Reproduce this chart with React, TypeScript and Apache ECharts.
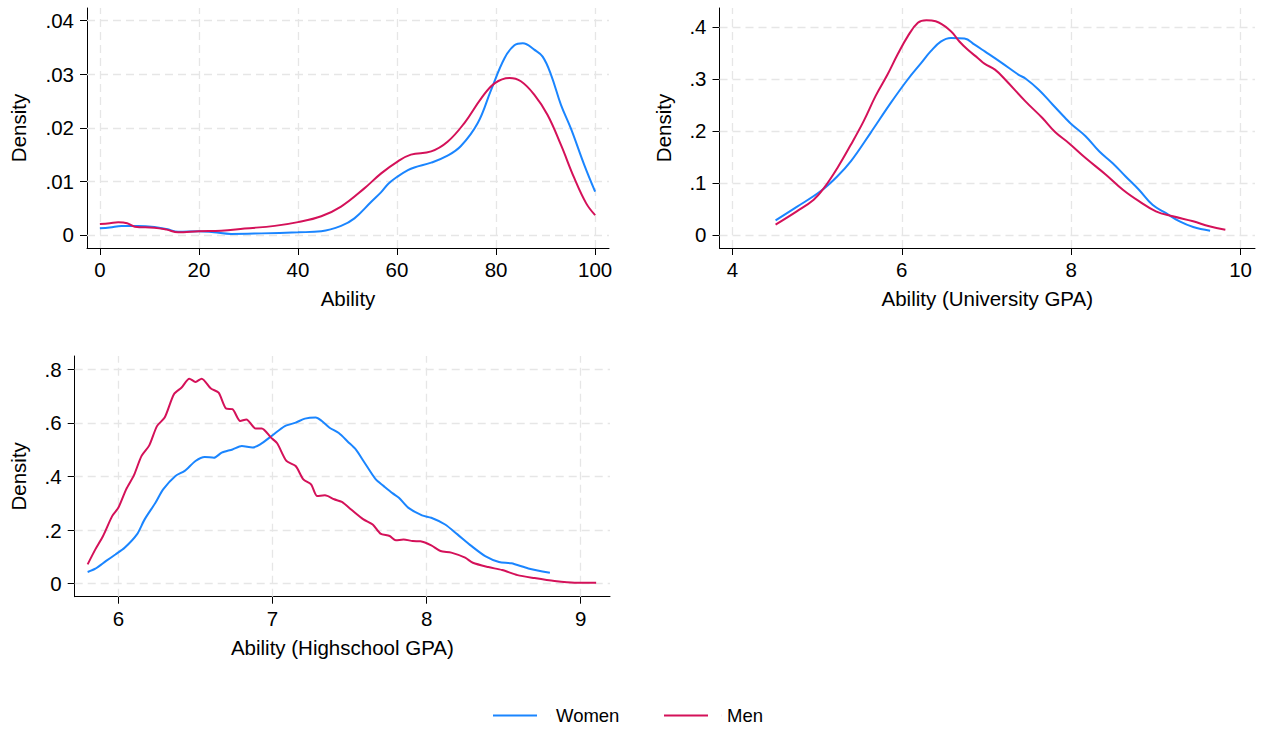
import React, { useEffect, useRef } from "react";
import * as echarts from "echarts";

// ---------- Data ----------
// Panel 1: Ability
const p1WomenX = [0, 2, 4.4, 7.7, 11, 13.5, 15.8, 20, 23, 26.5, 32.6, 40, 44.7, 48.7, 51.4, 54.8, 56.8, 58.3, 60.1, 62.2, 63.5, 66.9, 70.2, 72.9, 76.3, 79, 81.7, 83.7, 85.4, 87.7, 89.4, 91.1, 93.1, 95.1, 97.8, 100];
const p1WomenY = [0.00125, 0.0014, 0.0017, 0.0017, 0.0015, 0.0011, 0.0006, 0.0007, 0.0005, 0.0002, 0.0003, 0.0005, 0.0007, 0.0017, 0.0031, 0.0062, 0.008, 0.0096, 0.0109, 0.0121, 0.0126, 0.0135, 0.0148, 0.0166, 0.0209, 0.0271, 0.033, 0.0354, 0.0358, 0.0346, 0.0333, 0.0299, 0.0243, 0.0199, 0.0131, 0.0081];
const p1MenX = [0, 2, 3.7, 5.5, 7.05, 11, 13.5, 15.8, 20, 24.5, 29.2, 35.3, 40, 44.7, 48.7, 53.4, 56.8, 60.1, 62.8, 66.9, 70.2, 73.6, 77, 79.7, 82.7, 85, 87.7, 90.4, 93.1, 95.8, 98.2, 100];
const p1MenY = [0.00205, 0.0022, 0.00237, 0.0022, 0.00155, 0.00137, 0.001, 0.0005, 0.0007, 0.0008, 0.0012, 0.0017, 0.0024, 0.0035, 0.0053, 0.0087, 0.0115, 0.0137, 0.015, 0.0156, 0.0174, 0.0209, 0.0255, 0.0283, 0.0293, 0.0287, 0.0262, 0.0224, 0.0168, 0.0106, 0.0059, 0.0037];
const p1XTicks = [0, 20, 40, 60, 80, 100];
const p1YTicks = [0, 0.01, 0.02, 0.03, 0.04];

// Panel 2: University GPA
const p2WomenX = [4.51, 4.76, 5.04, 5.24, 5.4, 5.63, 5.87, 6.07, 6.23, 6.34, 6.46, 6.58, 6.74, 6.86, 6.98, 7.18, 7.38, 7.46, 7.62, 7.78, 7.93, 8.01, 8.17, 8.33, 8.49, 8.64, 8.8, 8.96, 9.12, 9.28, 9.44, 9.64];
const p2WomenY = [0.028, 0.054, 0.084, 0.113, 0.142, 0.196, 0.254, 0.299, 0.331, 0.353, 0.372, 0.379, 0.378, 0.366, 0.353, 0.331, 0.308, 0.301, 0.279, 0.251, 0.225, 0.212, 0.19, 0.161, 0.138, 0.113, 0.087, 0.058, 0.042, 0.026, 0.0154, 0.0083];
const p2MenX = [4.51, 4.76, 4.96, 5.08, 5.24, 5.4, 5.55, 5.69, 5.83, 5.95, 6.07, 6.19, 6.29, 6.4, 6.58, 6.68, 6.78, 6.9, 6.98, 7.1, 7.22, 7.46, 7.66, 7.81, 7.97, 8.17, 8.41, 8.61, 8.8, 9.0, 9.2, 9.44, 9.63, 9.82];
const p2MenY = [0.02, 0.0455, 0.068, 0.09, 0.129, 0.174, 0.219, 0.267, 0.308, 0.347, 0.382, 0.408, 0.413, 0.411, 0.392, 0.372, 0.356, 0.34, 0.329, 0.318, 0.299, 0.257, 0.225, 0.198, 0.177, 0.148, 0.116, 0.087, 0.065, 0.0455, 0.0359, 0.0263, 0.0167, 0.0103];
const p2XTicks = [4, 6, 8, 10];
const p2YTicks = [0, 0.1, 0.2, 0.3, 0.4];

// Panel 3: Highschool GPA
const p3WomenX = [5.8, 5.85, 5.92, 5.98, 6.04, 6.12, 6.17, 6.24, 6.29, 6.37, 6.43, 6.5, 6.56, 6.62, 6.67, 6.74, 6.8, 6.87, 6.92, 7.0, 7.08, 7.15, 7.21, 7.28, 7.32, 7.37, 7.43, 7.49, 7.54, 7.59, 7.67, 7.72, 7.78, 7.82, 7.88, 7.97, 8.03, 8.12, 8.2, 8.29, 8.38, 8.47, 8.55, 8.66, 8.8];
const p3WomenY = [0.0435, 0.056, 0.085, 0.109, 0.134, 0.184, 0.24, 0.302, 0.352, 0.402, 0.421, 0.458, 0.473, 0.47, 0.489, 0.501, 0.514, 0.508, 0.52, 0.554, 0.588, 0.601, 0.616, 0.62, 0.607, 0.582, 0.562, 0.529, 0.501, 0.458, 0.389, 0.365, 0.337, 0.321, 0.284, 0.255, 0.246, 0.221, 0.184, 0.141, 0.103, 0.081, 0.076, 0.057, 0.041];
const p3MenX = [5.8, 5.85, 5.9, 5.96, 6.0, 6.05, 6.1, 6.15, 6.2, 6.25, 6.3, 6.36, 6.41, 6.46, 6.5, 6.54, 6.6, 6.65, 6.7, 6.74, 6.79, 6.83, 6.89, 6.93, 6.99, 7.03, 7.09, 7.15, 7.2, 7.25, 7.29, 7.34, 7.4, 7.45, 7.51, 7.59, 7.65, 7.7, 7.76, 7.8, 7.85, 7.91, 7.96, 8.03, 8.09, 8.16, 8.25, 8.3, 8.4, 8.49, 8.59, 8.7, 8.83, 8.96, 9.1];
const p3MenY = [0.072, 0.128, 0.178, 0.253, 0.284, 0.352, 0.404, 0.477, 0.516, 0.588, 0.62, 0.707, 0.732, 0.765, 0.753, 0.765, 0.728, 0.713, 0.653, 0.651, 0.607, 0.613, 0.579, 0.579, 0.545, 0.524, 0.458, 0.439, 0.389, 0.371, 0.327, 0.33, 0.315, 0.305, 0.277, 0.24, 0.221, 0.187, 0.178, 0.162, 0.165, 0.159, 0.158, 0.143, 0.122, 0.116, 0.097, 0.078, 0.062, 0.051, 0.032, 0.021, 0.01, 0.0037, 0.0037];
const p3XTicks = [6, 7, 8, 9];
const p3YTicks = [0, 0.2, 0.4, 0.6, 0.8];

const seriesNames = ["Women", "Men"];
const xTitles = ["Ability", "Ability (University GPA)", "Ability (Highschool GPA)"];
const yTitle = "Density";

// ---------- Styling ----------
const BLUE = "#1a85ff";
const RED = "#d41159";
const FONT = "'Liberation Sans', Arial, Helvetica, sans-serif";
const GRID_COLOR = "#e6e6e6";
// legend icon: a 44px line followed by empty space (so the label sits ~19px after the line)
const LEGEND_ICON = "path://M0,0 H44 V2 H0 Z M57.9,0 H58 V2 H57.9 Z";

const zip = (xs: number[], ys: number[]) => xs.map((x, i) => [x, ys[i]]);
const fmtY = (v: number | string) => {
  const s = String(Number(v));
  return s === "0" ? "0" : s.replace(/^0\./, ".");
};

export default function App() {
  const ref = useRef<HTMLDivElement>(null);

  useEffect(() => {
    if (!ref.current) return;
    const chart = echarts.init(ref.current, undefined, { renderer: "svg" });

    const panels = [
      {
        grid: { left: 87, top: 8, width: 522, height: 240 },
        xr: [-2.6, 102.8], yr: [-0.00243, 0.04237],
        xt: p1XTicks, yt: p1YTicks, yGap: 58,
        w: zip(p1WomenX, p1WomenY), m: zip(p1MenX, p1MenY), smooth: 0.4,
      },
      {
        grid: { left: 719.5, top: 8, width: 535.5, height: 240 },
        xr: [3.848, 10.17], yr: [-0.025, 0.4365],
        xt: p2XTicks, yt: p2YTicks, yGap: 46,
        w: zip(p2WomenX, p2WomenY), m: zip(p2MenX, p2MenY), smooth: 0.4,
      },
      {
        grid: { left: 74.7, top: 356, width: 535.3, height: 240.7 },
        xr: [5.716, 9.19], yr: [-0.0485, 0.8496],
        xt: p3XTicks, yt: p3YTicks, yGap: 46,
        w: zip(p3WomenX, p3WomenY), m: zip(p3MenX, p3MenY), smooth: 0.25,
      },
    ];

    const textBase = { fontFamily: FONT, fontSize: 20.5, color: "#000" };

    const legendCommon = {
      top: 706,
      padding: 0,
      icon: LEGEND_ICON,
      itemWidth: 58,
      itemHeight: 2,
      textStyle: { fontFamily: FONT, fontSize: 18.5, color: "#000" },
    };

    const option: any = {
      animation: false,
      backgroundColor: "#fff",
      textStyle: { fontFamily: FONT },
      legend: [
        { ...legendCommon, data: [seriesNames[0]], left: 493 },
        { ...legendCommon, data: [seriesNames[1]], left: 664 },
      ],
      grid: panels.map((p) => ({ ...p.grid, containLabel: false })),
      xAxis: panels.map((p, i) => ({
        type: "value",
        gridIndex: i,
        min: p.xr[0],
        max: p.xr[1],
        name: xTitles[i],
        nameLocation: "middle",
        nameGap: 40,
        nameTextStyle: textBase,
        axisLine: { show: true, onZero: false, lineStyle: { color: "#000", width: 1 } },
        axisTick: { show: true, length: 7, customValues: p.xt, lineStyle: { color: "#000", width: 1 } },
        axisLabel: { customValues: p.xt, margin: 11, ...textBase, formatter: (v: number) => String(v) },
        splitLine: { show: false },
      })),
      yAxis: panels.map((p, i) => ({
        type: "value",
        gridIndex: i,
        min: p.yr[0],
        max: p.yr[1],
        name: yTitle,
        nameLocation: "middle",
        nameGap: p.yGap,
        nameTextStyle: textBase,
        axisLine: { show: true, onZero: false, lineStyle: { color: "#000", width: 1 } },
        axisTick: { show: true, length: 7, customValues: p.yt, lineStyle: { color: "#000", width: 1 } },
        axisLabel: { customValues: p.yt, margin: 13, ...textBase, formatter: fmtY },
        splitLine: { show: false },
      })),
      series: panels.flatMap((p, i) => [
        {
          type: "line",
          name: "grid" + i,
          xAxisIndex: i,
          yAxisIndex: i,
          data: [],
          z: 1,
          silent: true,
          markLine: {
            silent: true,
            z: 1,
            symbol: ["none", "none"],
            label: { show: false },
            emphasis: { disabled: true },
            lineStyle: { color: GRID_COLOR, width: 1.3, type: [8, 5] },
            data: [
              ...p.xt.map((v) => ({ xAxis: v })),
              ...p.yt.map((v) => ({ yAxis: v })),
            ],
          },
        },
        {
          type: "line",
          name: seriesNames[0],
          xAxisIndex: i,
          yAxisIndex: i,
          data: p.w,
          showSymbol: false,
          smooth: p.smooth,
          z: 3,
          color: BLUE,
          lineStyle: { color: BLUE, width: 2 },
        },
        {
          type: "line",
          name: seriesNames[1],
          xAxisIndex: i,
          yAxisIndex: i,
          data: p.m,
          showSymbol: false,
          smooth: p.smooth,
          z: 3,
          color: RED,
          lineStyle: { color: RED, width: 2 },
        },
      ]),
    };

    chart.setOption(option);
    return () => chart.dispose();
  }, []);

  return (
    <div
      ref={ref}
      style={{ position: "fixed", left: 0, top: 0, width: 1270, height: 729, background: "#fff" }}
    />
  );
}
